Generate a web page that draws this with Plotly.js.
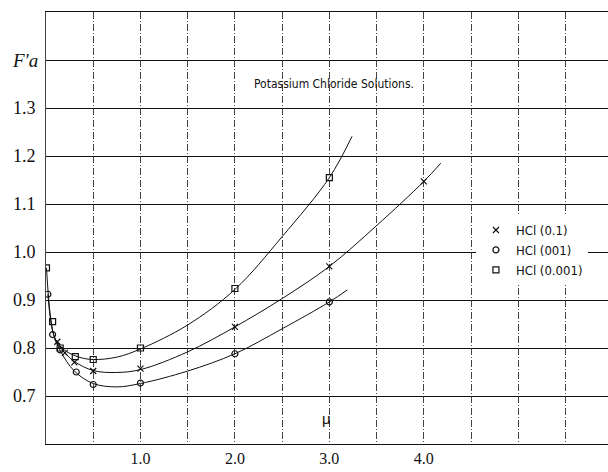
<!DOCTYPE html>
<html>
<head>
<meta charset="utf-8">
<script src="https://cdn.plot.ly/plotly-3.0.1.min.js"></script>
<style>
html,body{margin:0;padding:0;background:#fff;}
#chart{width:608px;height:472px;}
</style>
</head>
<body>
<div id="chart"></div>
<script>
// Measured points (ionic strength mu, F'a)
const mu01   = [0.12, 0.2, 0.3, 0.5, 1.0, 2.0, 3.0, 4.0];
const fa01   = [0.813, 0.79, 0.77, 0.752, 0.757, 0.844, 0.97, 1.147];
const mu001  = [0.02, 0.07, 0.15, 0.32, 0.5, 1.0, 2.0, 3.0];
const fa001  = [0.912, 0.828, 0.796, 0.75, 0.724, 0.727, 0.788, 0.896];
const mu0001 = [0.005, 0.07, 0.15, 0.31, 0.5, 1.0, 2.0, 3.0];
const fa0001 = [0.967, 0.855, 0.80, 0.782, 0.776, 0.80, 0.924, 1.155];

// Smooth fitted curves
const cmu01   = [0.1, 0.2, 0.3, 0.5, 0.75, 1.0, 1.5, 2.0, 2.5, 3.0, 3.5, 4.0, 4.18];
const cfa01   = [0.815, 0.79, 0.772, 0.753, 0.749, 0.755, 0.792, 0.844, 0.903, 0.97, 1.055, 1.147, 1.185];
const cmu001  = [0.02, 0.07, 0.15, 0.3, 0.5, 0.75, 1.0, 1.5, 2.0, 2.5, 3.0, 3.19];
const cfa001  = [0.912, 0.835, 0.795, 0.752, 0.726, 0.719, 0.726, 0.752, 0.788, 0.84, 0.896, 0.921];
const cmu0001 = [0.005, 0.05, 0.1, 0.2, 0.35, 0.5, 0.75, 1.0, 1.5, 2.0, 2.5, 3.0, 3.24];
const cfa0001 = [0.967, 0.862, 0.818, 0.795, 0.781, 0.776, 0.781, 0.798, 0.848, 0.922, 1.032, 1.155, 1.241];

const names = ['HCl (0.1)', 'HCl (001)', 'HCl (0.001)'];

const xTickVals = [0, 0.5, 1, 1.5, 2, 2.5, 3, 3.5, 4, 4.5, 5, 5.5];
const xTickText = ['', '', '1.0', '', '2.0', '', '3.0', '', '4.0', '', '', ''];
const yTickVals = [0.6, 0.7, 0.8, 0.9, 1.0, 1.1, 1.2, 1.3, 1.4, 1.5];
const yTickText = ['', '0.7', '0.8', '0.9', '1.0', '1.1', '1.2', '1.3', '', ''];

const lineStyle = {color: '#111', width: 1, shape: 'spline', smoothing: 1};
const curve = (x, y) => ({x: x, y: y, mode: 'lines', line: lineStyle, showlegend: false, hoverinfo: 'skip'});
const pts = (x, y, sym, name) => ({
  x: x, y: y, mode: 'markers', name: name,
  marker: {symbol: sym, size: 6, color: '#111', line: {color: '#111', width: 1.2}}
});

const data = [
  curve(cmu01, cfa01), curve(cmu001, cfa001), curve(cmu0001, cfa0001),
  pts(mu01, fa01, 'x-thin', names[0]),
  pts(mu001, fa001, 'circle-open', names[1]),
  pts(mu0001, fa0001, 'square-open', names[2])
];

const layout = {
  width: 608, height: 472,
  margin: {l: 46, r: 0, t: 12, b: 28},
  paper_bgcolor: '#fff', plot_bgcolor: '#fff',
  showlegend: true,
  legend: {
    x: 0.765, y: 0.53, xanchor: 'left', yanchor: 'top',
    bgcolor: '#fff', borderwidth: 0,
    font: {family: 'Liberation Sans Narrow, DejaVu Sans Condensed, Liberation Sans, sans-serif', size: 13, color: '#111'},
    itemwidth: 30, tracegroupgap: 0
  },
  xaxis: {
    range: [0, 5.95], tickmode: 'array', tickvals: xTickVals, ticktext: xTickText,
    showgrid: true, gridcolor: '#444', gridwidth: 1, griddash: '7px,2px,1px,2px',
    zeroline: false, showline: true, linecolor: '#111', linewidth: 1.2, mirror: true, ticks: '',
    ticklabelstandoff: 0,
    tickfont: {family: 'Liberation Serif, DejaVu Serif, serif', size: 16, color: '#111'},
    fixedrange: true
  },
  yaxis: {
    range: [0.6, 1.5], tickmode: 'array', tickvals: yTickVals, ticktext: yTickText,
    showgrid: true, gridcolor: '#111', gridwidth: 1,
    zeroline: false, showline: true, linecolor: '#444', linewidth: 1, mirror: false, ticks: '', ticklabelstandoff: 6,
    tickfont: {family: 'Liberation Serif, DejaVu Serif, serif', size: 18, color: '#111'},
    fixedrange: true
  },
  annotations: [
    {xref: 'paper', yref: 'y', x: -0.01, y: 1.4, xanchor: 'right', yanchor: 'middle', showarrow: false,
     text: "<i>F'a</i>", font: {family: 'Liberation Serif, DejaVu Serif, serif', size: 19, color: '#111'}},
    {xref: 'x', yref: 'y', x: 3.05, y: 1.35, showarrow: false,
     text: 'Potassium Chloride Solutions.', font: {family: 'Liberation Sans Narrow, DejaVu Sans Condensed, Liberation Sans, sans-serif', size: 12, color: '#111'}},
    {xref: 'x', yref: 'y', x: 2.97, y: 0.654, showarrow: false,
     text: 'μ', font: {family: 'Liberation Sans, DejaVu Sans, sans-serif', size: 15, color: '#111'}}
  ]
};

Plotly.newPlot('chart', data, layout, {displayModeBar: false, staticPlot: true});
</script>
</body>
</html>
